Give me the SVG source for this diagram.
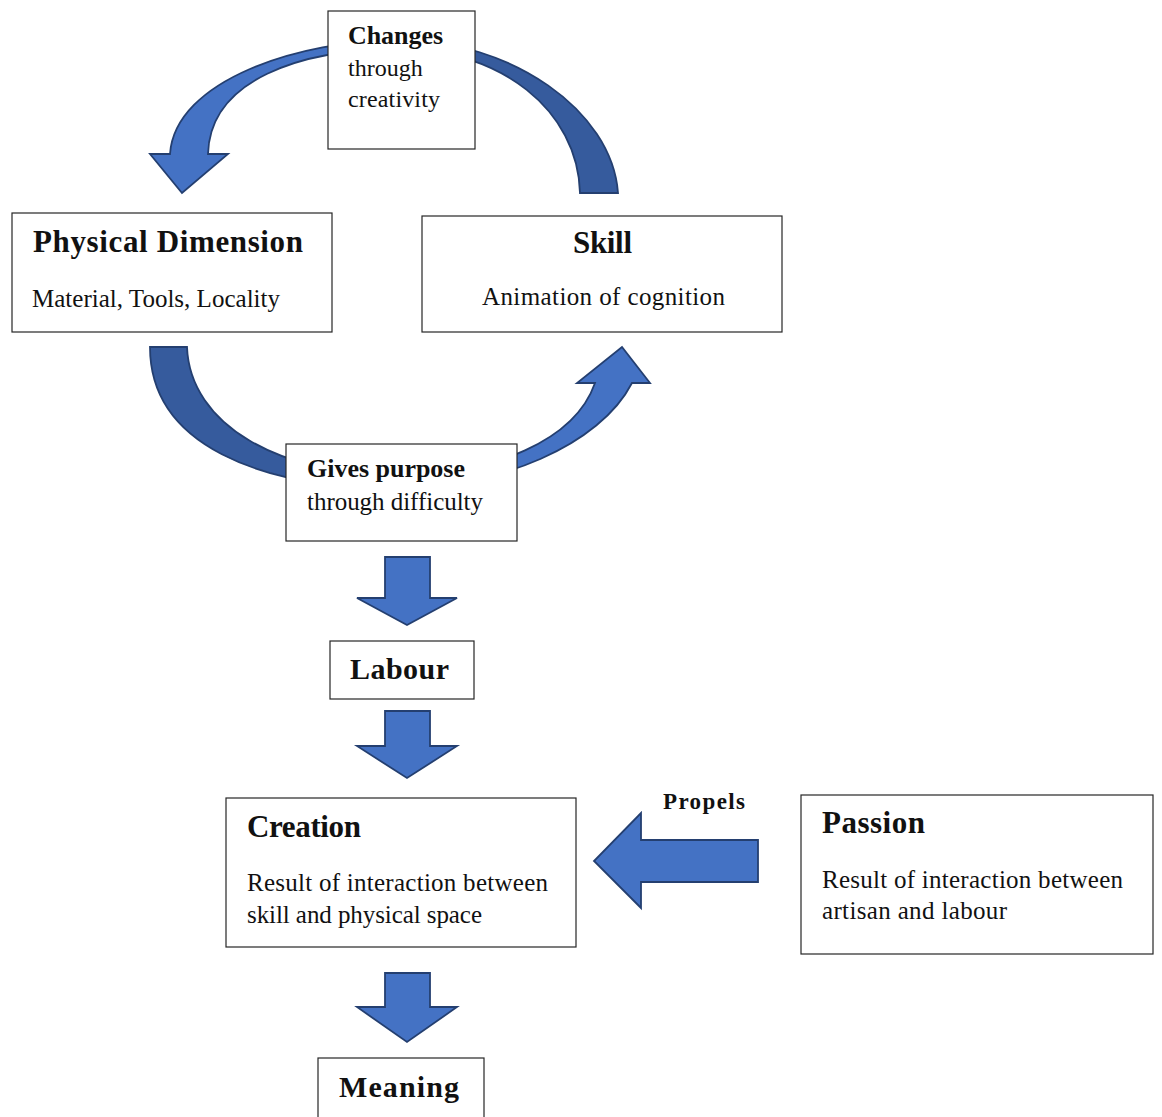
<svg xmlns="http://www.w3.org/2000/svg" width="1162" height="1117" viewBox="0 0 1162 1117">
  <style>
    .box { fill: #ffffff; stroke: #262626; stroke-width: 1.2; }
    .arr { fill: #4472C4; stroke: #243F70; stroke-width: 1.8; stroke-linejoin: miter; }
    .arrd { fill: #365B9D; stroke: #243F70; stroke-width: 1.8; stroke-linejoin: miter; }
    text { font-family: "Liberation Serif", "Times New Roman", serif; fill: #111111; }
    .t { font-weight: bold; font-size: 31px; }
    .tm { font-weight: bold; font-size: 30px; }
    .ts { font-weight: bold; font-size: 26px; }
    .tp { font-weight: bold; font-size: 23px; }
    .b { font-size: 25px; }
    .bs { font-size: 24px; }
  </style>
  <rect width="1162" height="1117" fill="#ffffff"/>
  <g id="connectors">
    <!-- top curved arrow: Skill -> Physical Dimension -->
    <path class="arrd" d="M400,40 C510,40 612,110 618,193 L580,193 C578,110 500,49 400,49 Z"/>
    <path class="arr" d="M400,40 C300,40 175,80 170,154 L150,154 L182,193 L228,154 L208,154 C210,80 300,49 400,49 Z"/>
    <!-- bottom curved arrow: Physical Dimension -> Skill -->
    <path class="arrd" d="M150,347 L187,347 C190,425 280,475 395,475 L395,488 C260,488 150,445 150,347 Z"/>
    <path class="arr" d="M395,475 C495,475 575,440 595,383 L577,383 L622,347 L650,383 L632,383 C600,445 500,488 395,488 Z"/>
    <!-- down arrows -->
    <path class="arr" d="M385,557 H430 V598 H457 L407,625 L357,598 H385 Z"/>
    <path class="arr" d="M385,711 H430 V746 H457 L407,778 L357,746 H385 Z"/>
    <path class="arr" d="M385,973 H430 V1007 H457 L407,1042 L357,1007 H385 Z"/>
    <!-- propels arrow -->
    <path class="arr" d="M758,840 V882 H641 V908 L594,861 L641,813 V840 Z"/>
    <text class="tp" x="663" y="809" textLength="82">Propels</text>
  </g>
  <g id="changes">
    <rect class="box" x="328" y="11" width="147" height="138"/>
    <text class="ts" x="348" y="44" textLength="95">Changes</text>
    <text class="bs" x="348" y="76">through</text>
    <text class="bs" x="348" y="107" textLength="92">creativity</text>
  </g>
  <g id="physical">
    <rect class="box" x="12" y="213" width="320" height="119"/>
    <text class="t" x="33" y="252" textLength="270">Physical Dimension</text>
    <text class="b" x="32" y="307" textLength="248">Material, Tools, Locality</text>
  </g>
  <g id="skill">
    <rect class="box" x="422" y="216" width="360" height="116"/>
    <text class="t" x="573" y="253" textLength="59">Skill</text>
    <text class="b" x="482" y="305" textLength="243">Animation of cognition</text>
  </g>
  <g id="purpose">
    <rect class="box" x="286" y="444" width="231" height="97"/>
    <text class="ts" x="307" y="477" textLength="158">Gives purpose</text>
    <text class="b" x="307" y="510" textLength="176">through difficulty</text>
  </g>
  <g id="labour">
    <rect class="box" x="330" y="641" width="144" height="58"/>
    <text class="tm" x="350" y="679" textLength="99">Labour</text>
  </g>
  <g id="creation">
    <rect class="box" x="226" y="798" width="350" height="149"/>
    <text class="t" x="247" y="837" textLength="114">Creation</text>
    <text class="b" x="247" y="891" textLength="301">Result of interaction between</text>
    <text class="b" x="247" y="923" textLength="235">skill and physical space</text>
  </g>
  <g id="passion">
    <rect class="box" x="801" y="795" width="352" height="159"/>
    <text class="t" x="822" y="833" textLength="103">Passion</text>
    <text class="b" x="822" y="888" textLength="301">Result of interaction between</text>
    <text class="b" x="822" y="919" textLength="185">artisan and labour</text>
  </g>
  <g id="meaning">
    <rect class="box" x="318" y="1058" width="166" height="70"/>
    <text class="tm" x="339" y="1097" textLength="120">Meaning</text>
  </g>
</svg>
